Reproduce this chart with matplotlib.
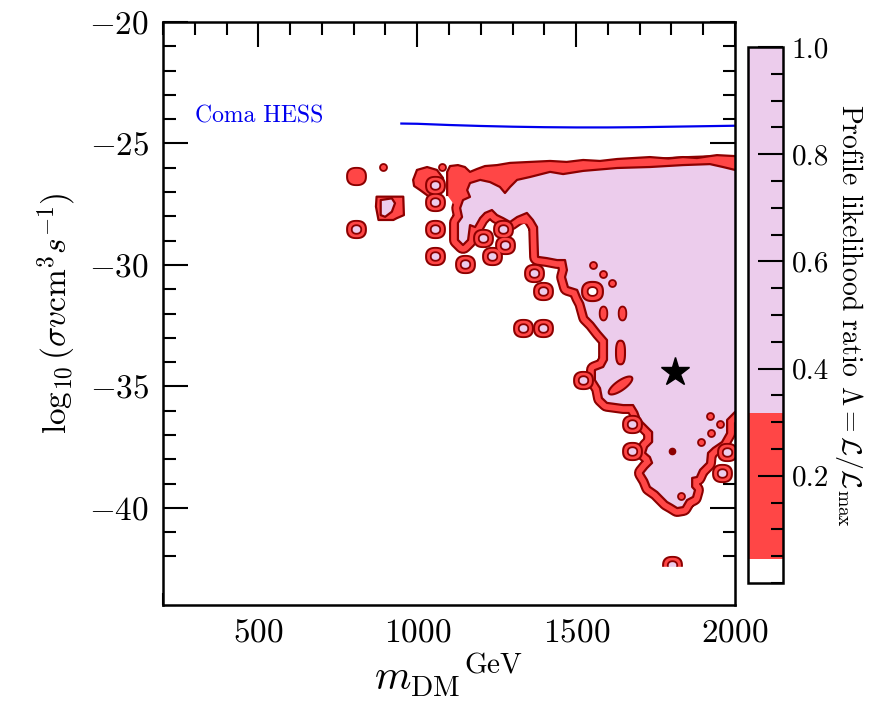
import numpy as np
import matplotlib
matplotlib.use("Agg")
import matplotlib.pyplot as plt
from matplotlib.patches import Polygon
from matplotlib.path import Path
from matplotlib.colors import ListedColormap, BoundaryNorm
from matplotlib.cm import ScalarMappable
from matplotlib.ticker import MultipleLocator

plt.rcParams.update({
    "font.family": "serif",
    "font.serif": ["cmr10"],
    "mathtext.fontset": "cm",
    "axes.formatter.use_mathtext": True,
    "axes.unicode_minus": True,
})

# ---------------- data ----------------
# Main Lambda > 0.317 region (boundary of the purple area)
MAIN_X = [1135, 1144, 1166, 1157, 1166, 1198, 1229, 1260, 1276, 1292, 1314, 1355,
          1418, 1459, 1522, 1629, 1732, 1836, 1921, 1962, 2000, 2040, 2040, 2000,
          1975, 1975, 1959, 1931, 1915, 1912, 1890, 1880, 1865, 1865, 1874, 1868,
          1849, 1836, 1818, 1802, 1786, 1770, 1755, 1732, 1723, 1710, 1723, 1739,
          1732, 1717, 1723, 1739, 1739, 1723, 1701, 1692, 1679, 1648, 1597, 1581,
          1575, 1559, 1559, 1585, 1597, 1597, 1575, 1553, 1534, 1522, 1512, 1503,
          1474, 1465, 1471, 1465, 1440, 1408, 1380, 1377, 1364, 1345, 1314, 1292,
          1270, 1251, 1235, 1213, 1198, 1182, 1166, 1160, 1144, 1128, 1128, 1141]
MAIN_Y = [-27.66, -27.33, -27.20, -26.92, -26.63, -26.50, -26.59, -26.79, -27.04, -26.79,
          -26.50, -26.38, -26.17, -26.26, -26.13, -26.01, -25.97, -25.89, -25.85, -25.97,
          -26.09, -26.09, -36.05, -36.05, -36.38, -36.92, -37.29, -37.54, -37.74, -38.15,
          -38.44, -38.73, -38.77, -39.14, -39.27, -39.55, -39.68, -39.97, -40.01, -39.88,
          -39.76, -39.55, -39.35, -39.14, -38.85, -38.57, -38.36, -38.15, -37.91, -37.74,
          -37.50, -37.29, -36.88, -36.67, -36.38, -36.05, -35.77, -35.77, -35.68, -35.48,
          -35.07, -34.74, -34.33, -34.20, -33.91, -33.09, -32.76, -32.39, -32.14, -31.57,
          -31.32, -31.03, -30.91, -30.50, -30.21, -29.80, -29.80, -29.72, -29.67, -28.44,
          -28.15, -27.86, -28.03, -28.23, -28.07, -27.95, -27.74, -27.86, -28.07, -28.44,
          -28.36, -28.97, -29.18, -28.97, -28.27, -28.03]

# Upper red (0.05 < Lambda < 0.317) strip: outer edge, then closing points inside the purple
TOP_EDGE_X = [1094, 1094, 1103, 1128, 1150, 1166, 1188, 1213, 1251, 1292, 1355, 1418,
              1470, 1522, 1575, 1629, 1680, 1732, 1790, 1836, 1880, 1921, 1943, 2000, 2040]
TOP_EDGE_Y = [-27.12, -26.17, -25.93, -25.89, -25.97, -26.17, -26.05, -25.93, -25.89,
              -25.80, -25.76, -25.72, -25.76, -25.68, -25.72, -25.64, -25.60, -25.56,
              -25.62, -25.56, -25.60, -25.52, -25.48, -25.52, -25.52]
TOP_CLOSE_X = [2040, 1400, 1386, 1300, 1230, 1166, 1128]
TOP_CLOSE_Y = [-27.50, -27.50, -28.30, -28.30, -28.00, -27.74, -27.74]

# Red blob near m=1050
BLOB_X = [987, 999, 1031, 1062, 1081, 1084, 1065, 1034, 1009, 990]
BLOB_Y = [-26.50, -26.09, -25.97, -26.09, -26.42, -26.92, -27.16, -27.16, -26.92, -26.75]

# Blob near m=910 (outer red, inner purple)
B2_OUT_X = [872, 956, 958, 935, 925, 878, 870]
B2_OUT_Y = [-27.19, -27.19, -27.95, -28.08, -28.15, -28.15, -27.60]
B2_IN_X = [885, 920, 930, 920, 899, 885]
B2_IN_Y = [-27.33, -27.26, -27.46, -27.81, -28.02, -27.95]

# Isolated ring islands (red ring, purple centre)
RING_X = [1056, 1056, 1056, 1056, 1150, 1207, 1270, 1235, 1275, 1367, 1396, 1333,
          1396, 1522, 1676, 1676, 807, 1975, 1959, 1802]
RING_Y = [-26.71, -27.41, -28.52, -29.63, -29.96, -28.89, -28.52, -29.65, -29.20,
          -30.33, -31.07, -32.60, -32.60, -34.74, -36.55, -37.66, -28.52, -37.70,
          -38.57, -42.35]
# Solid red island
SOLID_X = [807]
SOLID_Y = [-26.34]
# Ring with an empty (white) centre inside the purple region
HOLE_X = [1550]
HOLE_Y = [-31.07]
# Small red dots
DOT_X = [1553, 1585, 1613, 1921, 1953, 1925, 1893, 1830, 892, 1078]
DOT_Y = [-30.00, -30.37, -30.75, -36.22, -36.55, -36.92, -37.29, -39.51, -25.97, -25.97]
# Tiny dark dot
DARKDOT_X = [1802]
DARKDOT_Y = [-37.66]
# Small vertical ovals and a taller bar
OVAL_X = [1585, 1644]
OVAL_Y = [-31.98, -31.98]
BAR_X = [1638]
BAR_Y = [-33.59]
# Tilted blob
TILT_X = [1638]
TILT_Y = [-34.95]

# Best fit point
BEST_X = [1811]
BEST_Y = [-34.41]

# Coma HESS limit
HESS_X = [950, 1000, 1100, 1200, 1300, 1400, 1500, 1600, 1700, 1800, 1900, 2000]
HESS_Y = [-24.18, -24.19, -24.24, -24.28, -24.31, -24.33, -24.34, -24.34, -24.33,
          -24.31, -24.29, -24.27]

# Colour bar levels
LEVELS = [0.0, 0.045, 0.317, 1.0]
CB_TICKS = [0.2, 0.4, 0.6, 0.8, 1.0]
CB_TICKLABELS = ["0.2", "0.4", "0.6", "0.8", "1.0"]

# ---------------- styles ----------------
PURPLE = "#ecccec"
RED = "#ff4646"
DARK = "#8c0000"
WHITE = "#ffffff"


def superellipse(a=1.0, b=1.0, n=3.0, npts=80):
    t = np.linspace(0, 2 * np.pi, npts)
    c, s = np.cos(t), np.sin(t)
    x = a * np.sign(c) * np.abs(c) ** (2.0 / n)
    y = b * np.sign(s) * np.abs(s) ** (2.0 / n)
    return Path(np.column_stack([x, y]), closed=True)


def tilted(a=1.0, b=0.35, ang=35, npts=80):
    t = np.linspace(0, 2 * np.pi, npts)
    x = a * np.cos(t)
    y = b * np.sin(t)
    r = np.deg2rad(ang)
    return Path(np.column_stack([x * np.cos(r) - y * np.sin(r),
                                 x * np.sin(r) + y * np.cos(r)]), closed=True)


RING_M = superellipse(1, 0.92, 2.45)
ROUND_M = superellipse(1, 1, 2.0)
INNER_M = superellipse(1, 0.9, 2.2)
VOVAL_M = superellipse(0.55, 1, 2.2)
VBAR_M = superellipse(0.38, 1, 2.6)
TILT_M = tilted()

fig = plt.figure(figsize=(8.76, 7.03), dpi=100)
ax = fig.add_axes([0.1861, 0.1394, 0.653, 0.8293])
cax = fig.add_axes([0.854, 0.1707, 0.040, 0.7624])

main_xy = np.column_stack([MAIN_X, MAIN_Y])

# band around the main region
ax.add_patch(Polygon(main_xy, closed=True, fill=False, ec=DARK, lw=12.8,
                     joinstyle="round", zorder=2))
ax.add_patch(Polygon(main_xy, closed=True, fill=False, ec=RED, lw=9.8,
                     joinstyle="round", zorder=2.1))

# upper red strip
top_xy = np.column_stack([TOP_EDGE_X + TOP_CLOSE_X, TOP_EDGE_Y + TOP_CLOSE_Y])
ax.add_patch(Polygon(top_xy, closed=True, fc=RED, ec="none", zorder=2.2))
ax.plot(TOP_EDGE_X, TOP_EDGE_Y, color=DARK, lw=1.6, zorder=2.3,
        solid_joinstyle="round")

# main purple region
ax.add_patch(Polygon(main_xy, closed=True, fc=PURPLE, ec=DARK, lw=1.6,
                     joinstyle="round", zorder=2.4))

# red blobs
ax.add_patch(Polygon(np.column_stack([BLOB_X, BLOB_Y]), closed=True, fc=RED, ec=DARK,
                     lw=1.6, joinstyle="round", zorder=3))
ax.add_patch(Polygon(np.column_stack([B2_OUT_X, B2_OUT_Y]), closed=True, fc=RED, ec=DARK,
                     lw=1.6, joinstyle="round", zorder=3))
ax.add_patch(Polygon(np.column_stack([B2_IN_X, B2_IN_Y]), closed=True, fc=PURPLE, ec=DARK,
                     lw=1.6, joinstyle="round", zorder=3.1))

# ring islands
ax.plot(RING_X + SOLID_X, RING_Y + SOLID_Y, ls="none", marker=RING_M, ms=15,
        mfc=DARK, mec="none", zorder=4)
ax.plot(RING_X + SOLID_X, RING_Y + SOLID_Y, ls="none", marker=RING_M, ms=12.1,
        mfc=RED, mec="none", zorder=4.1)
ax.plot(RING_X, RING_Y, ls="none", marker=INNER_M, ms=6.8,
        mfc=PURPLE, mec=DARK, mew=1.3, zorder=4.2)

# ring with empty centre
ax.plot(HOLE_X, HOLE_Y, ls="none", marker=RING_M, ms=15, mfc=RED, mec=DARK,
        mew=1.5, zorder=4)
ax.plot(HOLE_X, HOLE_Y, ls="none", marker=INNER_M, ms=7, mfc=WHITE, mec=DARK,
        mew=1.3, zorder=4.1)

# small features inside the purple region
ax.plot(DOT_X, DOT_Y, ls="none", marker=ROUND_M, ms=5, mfc=RED, mec=DARK,
        mew=1.3, zorder=4.3)
ax.plot(DARKDOT_X, DARKDOT_Y, ls="none", marker=ROUND_M, ms=4.5, mfc=DARK,
        mec=DARK, zorder=4.3)
ax.plot(OVAL_X, OVAL_Y, ls="none", marker=VOVAL_M, ms=10, mfc=RED, mec=DARK,
        mew=1.3, zorder=4.3)
ax.plot(BAR_X, BAR_Y, ls="none", marker=VBAR_M, ms=17, mfc=RED, mec=DARK,
        mew=1.5, zorder=4.3)
ax.plot(TILT_X, TILT_Y, ls="none", marker=TILT_M, ms=17, mfc=RED, mec=DARK,
        mew=1.5, zorder=4.3)

# data grid ends just above the lower edge
ax.axhspan(-44, -42.44, color=WHITE, zorder=5)

# best-fit star
ax.plot(BEST_X, BEST_Y, ls="none", marker="*", ms=21, color="black", zorder=6)

# Coma HESS limit
ax.plot(HESS_X, HESS_Y, color="#0000ee", lw=1.6, zorder=6)
ax.text(300, -23.9, "Coma HESS", color="#0000ee", fontsize=17, va="center",
        ha="left", zorder=6)

ax.set_xlim(200, 2000)
ax.set_ylim(-44, -20)
ax.xaxis.set_major_locator(MultipleLocator(500))
ax.xaxis.set_minor_locator(MultipleLocator(100))
ax.yaxis.set_major_locator(MultipleLocator(5))
ax.yaxis.set_minor_locator(MultipleLocator(1))
ax.tick_params(which="both", direction="in", top=True, right=True, width=1.5,
               labelsize=24, pad=10)
ax.tick_params(which="major", length=18)
ax.tick_params(which="minor", length=9)
for sp in ax.spines.values():
    sp.set_linewidth(1.8)
    sp.set_zorder(10)

ax.set_xlabel(r"$m_{\rm DM}{}^{\rm GeV}$", fontsize=30, labelpad=2)
ax.set_ylabel(r"$\log_{10}(\sigma v{\rm cm}^3 s^{-1})$", fontsize=24, labelpad=8)

# colour bar
cmap = ListedColormap([WHITE, RED, PURPLE])
norm = BoundaryNorm(LEVELS, cmap.N)
sm = ScalarMappable(norm=norm, cmap=cmap)
cb = fig.colorbar(sm, cax=cax, ticks=CB_TICKS, spacing="proportional")
cb.outline.set_linewidth(1.8)
cax.yaxis.set_minor_locator(MultipleLocator(0.05))
cax.tick_params(which="both", direction="in", width=1.5, labelsize=21, right=True,
                left=False, pad=6)
cax.tick_params(which="major", length=18)
cax.tick_params(which="minor", length=9)
cax.set_yticklabels(CB_TICKLABELS)
cb.set_label(r"Profile likelihood ratio $\Lambda = \mathcal{L}/\mathcal{L}_{\rm max}$",
             rotation=270, fontsize=20, labelpad=26)

fig.savefig("out.png", dpi=100)
